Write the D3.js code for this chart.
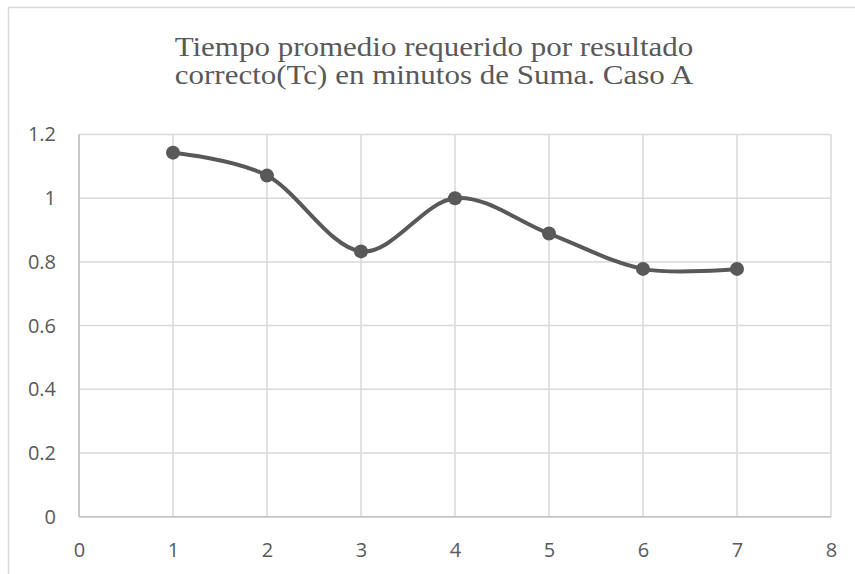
<!DOCTYPE html>
<html>
<head>
<meta charset="utf-8">
<script src="https://cdn.jsdelivr.net/npm/d3@7"></script>
<style>
  body { margin: 0; background: #fff; }
  svg { display: block; }
</style>
</head>
<body>
<svg id="chart" width="855" height="574"></svg>
<script>
// values
const xValues = [1, 2, 3, 4, 5, 6, 7];
const yValues = [1.143, 1.071, 0.833, 1.0, 0.889, 0.778, 0.778];
const xTicks = [0, 1, 2, 3, 4, 5, 6, 7, 8];
const yTicks = [0, 0.2, 0.4, 0.6, 0.8, 1, 1.2];
const titleLines = ['Tiempo promedio requerido por resultado', 'correcto(Tc) en minutos de Suma. Caso A'];

const svg = d3.select('#chart');
const margin = {left: 79, right: 24, top: 134.5, bottom: 57.3};
const width = 855, height = 574;

//chart frame: only the top and left edges show in the picture
svg.append('path')
  .attr('d', 'M8.5,' + height + 'V7.5H' + width)
  .attr('fill', 'none')
  .attr('stroke', '#d9d9d9')
  .attr('stroke-width', 1.5);

let x = d3.scaleLinear().domain([0, 8]).range([margin.left, width - margin.right]);
let y = d3.scaleLinear().domain([0, 1.2]).range([height - margin.bottom, margin.top]);

//Gridlines
svg.append('g').selectAll('line')
  .data(xTicks)
  .join('line')
  .attr('x1', d => x(d)).attr('x2', d => x(d))
  .attr('y1', y(0)).attr('y2', y(1.2))
  .attr('stroke', '#d9d9d9')
  .attr('stroke-width', 1.5);

svg.append('g').selectAll('line')
  .data(yTicks)
  .join('line')
  .attr('x1', x(0)).attr('x2', x(8))
  .attr('y1', d => y(d)).attr('y2', d => y(d))
  .attr('stroke', '#d9d9d9')
  .attr('stroke-width', 1.5);

//Axis lines
svg.append('line').attr('x1', x(0)).attr('x2', x(0)).attr('y1', y(0)).attr('y2', y(1.2))
  .attr('stroke', '#bfbfbf').attr('stroke-width', 1.5);
svg.append('line').attr('x1', x(0)).attr('x2', x(8)).attr('y1', y(0)).attr('y2', y(0))
  .attr('stroke', '#bfbfbf').attr('stroke-width', 1.5);

//Tick labels
let xAxis = d3.axisBottom(x).tickValues(xTicks).tickSize(0).tickPadding(26).tickFormat(d3.format('~g'));
svg.append('g').attr('transform', 'translate(0,' + y(0) + ')').call(xAxis)
  .call(g => g.select('.domain').remove())
  .selectAll('text')
  .style('font-family', '"Open Sans", "Liberation Sans", sans-serif')
  .style('font-size', '20px')
  .attr('fill', '#595959');

let yAxis = d3.axisLeft(y).tickValues(yTicks).tickSize(0).tickPadding(23).tickFormat(d3.format('~g'));
svg.append('g').attr('transform', 'translate(' + x(0) + ',0)').call(yAxis)
  .call(g => g.select('.domain').remove())
  .selectAll('text')
  .style('font-family', '"Open Sans", "Liberation Sans", sans-serif')
  .style('font-size', '20px')
  .attr('fill', '#595959');

//Title: the source picture is squeezed vertically, so the type is too.
svg.append('g').attr('transform', 'translate(434,0) scale(1,0.855)').selectAll('text')
  .data(titleLines)
  .join('text')
  .attr('x', 0)
  .attr('y', (d, i) => (56 + i * 28) / 0.855)
  .attr('text-anchor', 'middle')
  .style('font-family', '"Liberation Serif", "Times New Roman", serif')
  .style('font-size', '31px')
  .attr('fill', '#595959')
  .text(d => d);

//Smoothed series line
let points = xValues.map((d, i) => ({x: d, y: yValues[i]}));
let lineFn = d3.line()
  .x(d => x(d.x))
  .y(d => y(d.y))
  .curve(d3.curveCardinal.tension(0));

svg.append('path')
  .attr('d', lineFn(points))
  .attr('fill', 'none')
  .attr('stroke', '#595959')
  .attr('stroke-width', 4)
  .attr('stroke-linecap', 'round');

svg.append('g').selectAll('circle')
  .data(points)
  .join('circle')
  .attr('cx', d => x(d.x))
  .attr('cy', d => y(d.y))
  .attr('r', 7)
  .attr('fill', '#595959');
</script>
</body>
</html>
